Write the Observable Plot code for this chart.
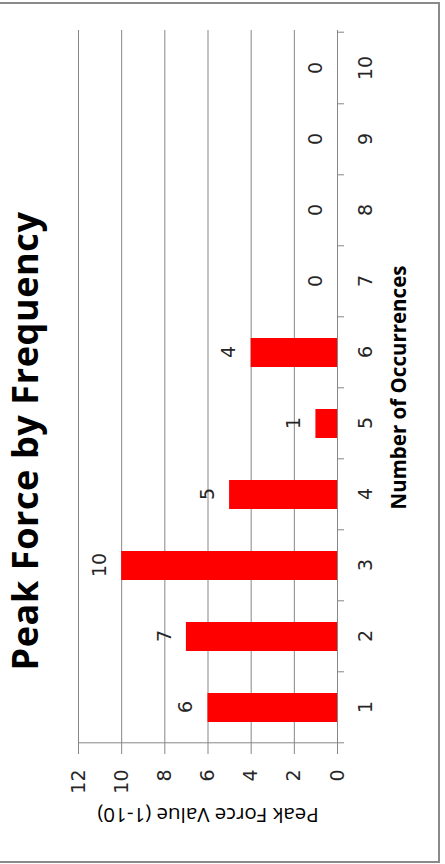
<!DOCTYPE html>
<html>
<head>
<meta charset="utf-8">
<script src="https://cdn.jsdelivr.net/npm/d3@7"></script>
<script src="https://cdn.jsdelivr.net/npm/@observablehq/plot@0.6"></script>
<style>
html, body { margin: 0; padding: 0; background: #fff; overflow: hidden; width: 445px; height: 864px; }
#frame { position: absolute; left: -10px; top: 2px; width: 450px; height: 861px; box-sizing: border-box; border: 2px solid #8a8a8a; }
#chart { position: absolute; left: 0; top: 0; width: 864px; height: 445px; transform-origin: 0 0; transform: translate(0px, 864px) rotate(-90deg); }
#title { height: 62px; font-family: "Open Sans"; font-weight: 700; font-size: 36px; letter-spacing: 0.6px; line-height: normal; text-align: center; color: #000; padding-right: 18px; box-sizing: border-box; white-space: nowrap; }
#plot svg { display: block; }
</style>
</head>
<body>
<div id="frame"></div>
<div id="chart">
  <div id="title">Peak Force by Frequency</div>
  <div id="plot"></div>
</div>
<script>
const categories = ["1", "2", "3", "4", "5", "6", "7", "8", "9", "10"];
const occurrences = [6, 7, 10, 5, 1, 4, 0, 0, 0, 0];
const valueTicks = [0, 2, 4, 6, 8, 10, 12];
const gridTicks = [2, 4, 6, 8, 10, 12];
const xTitle = "Number of Occurrences";
const yTitle = "Peak Force Value (1-10)";

const data = categories.map((c, i) => ({category: c, count: occurrences[i]}));

const W = 864, H = 383, mL = 118, mR = 30, mT = 16, mB = 108;
const step = (W - mL - mR) / categories.length;
const gray = "#868686", ink = "#262626";

const chart = Plot.plot({
  width: W, height: H,
  marginLeft: mL, marginRight: mR, marginTop: mT, marginBottom: mB,
  style: {fontFamily: "DejaVu Sans", fontSize: "19px", background: "transparent", overflow: "visible"},
  x: {type: "band", domain: categories, paddingInner: 0.595, paddingOuter: 0.2975, align: 0.5, label: null},
  y: {domain: [0, 12], label: null},
  marks: [
    Plot.gridY(gridTicks, {stroke: gray, strokeOpacity: 1, strokeWidth: 1}),
    Plot.barY(data, {x: "category", y: "count", fill: "#ff0000"}),
    Plot.ruleY([0], {stroke: gray}),
    Plot.ruleX([categories[0]], {y1: 0, y2: 12, dx: -step / 2, stroke: gray}),
    Plot.axisY({ticks: valueTicks, tickSize: 8, tickPadding: 16, stroke: gray, fill: ink, fontSize: 19, label: null}),
    Plot.axisX({tickSize: 0, tickPadding: 21, fill: ink, fontSize: 19, label: null}),
    Plot.axisX(categories, {tickSize: 7, tickFormat: () => "", dx: -step / 2, stroke: gray, label: null}),
    Plot.axisX([categories[categories.length - 1]], {tickSize: 7, tickFormat: () => "", dx: step / 2, stroke: gray, label: null}),
    Plot.text(data, {x: "category", y: "count", text: d => String(d.count), dy: -22, lineAnchor: "middle", fill: ink, fontSize: 19}),
    Plot.text([xTitle], {frameAnchor: "bottom", text: d => d, dy: 62, textAnchor: "middle", lineAnchor: "middle", fontFamily: "Open Sans", fontWeight: 700, fontSize: 20.5, fill: "#000"}),
    Plot.text([yTitle], {frameAnchor: "left", text: d => d, rotate: -90, dx: -69, textAnchor: "middle", lineAnchor: "middle", fontFamily: "Open Sans", fontSize: 20.5, fill: "#000"})
  ]
});
document.getElementById("plot").appendChild(chart);
</script>
</body>
</html>
